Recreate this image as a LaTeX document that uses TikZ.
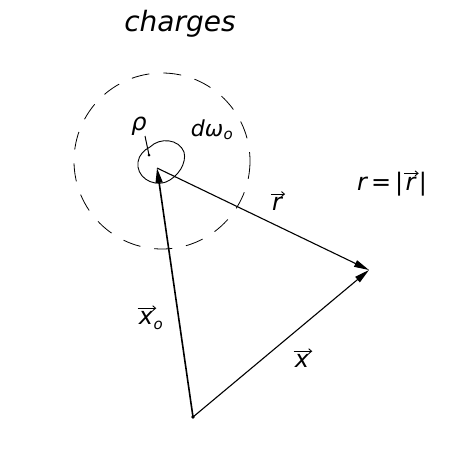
\documentclass[tikz,border=0pt]{standalone}
\usepackage{fontspec}
\setsansfont{DejaVu Sans}
\usetikzlibrary{arrows.meta}
\begin{document}
\begin{tikzpicture}[x=1pt,y=-1pt,
  vec/.style={line width=1.1pt,-{Triangle[length=15pt,width=7pt]}},
  harrow/.style={line width=0.9pt,-{Straight Barb[length=3pt,width=5pt]}},
  lbl/.style={font=\fontsize{28}{32}\selectfont\sffamily\itshape,inner sep=0pt},
  mlbl/.style={font=\fontsize{24}{28}\selectfont\sffamily\itshape,inner sep=0pt},
  sub/.style={font=\fontsize{15}{18}\selectfont\sffamily\itshape,inner sep=0pt}]
\useasboundingbox (0,0) rectangle (454,474);
\fill[white] (0,0) rectangle (454,474);
\coordinate (O) at (193,417);
\coordinate (P) at (157,168);
\coordinate (X) at (369,270);
\coordinate (C) at (162,161);
% dashed sphere
\draw[line width=0.8pt,dash pattern=on 18pt off 14pt] (C) circle (88);
% charge blob
\draw[line width=0.9pt] (150,147) .. controls (160,137) and (179,139) .. (184,152)
  .. controls (187,163) and (178,177) .. (166,182)
  .. controls (151,187) and (136,176) .. (138,162)
  .. controls (139,155) and (144,150) .. (150,147) -- cycle;
\coordinate (rhoend) at (149,155);
\fill (rhoend) circle (1.5pt);
\node[mlbl] (rho) at (139,126) {ρ};
\draw[line width=1pt] (145,136) -- (rhoend);
\node[mlbl,font=\fontsize{22}{26}\selectfont\sffamily\itshape] (dw) at (207,128) {dω};
\node[sub,anchor=base west] (dwo) at ([yshift=-3pt]dw.base east) {o};
% vectors
\draw[vec,line width=1.6pt] (O) -- (P);
\draw[vec] (P) -- (X);
\draw[vec] (O) -- (X);
\fill (O) circle (1.8pt);
% labels
\node[lbl] (charges) at (180,24) {charges};
\node[mlbl] (rl) at (277,204) {r};
\draw[harrow] ([xshift=-1pt,yshift=3pt]rl.north west) -- ([xshift=3pt,yshift=3pt]rl.north east);
\node[mlbl,anchor=base west] (rr1) at (357,190) {r\,=\,|};
\node[mlbl,anchor=base west] (rr2) at ([xshift=2pt]rr1.base east) {r};
\node[mlbl,anchor=base west] (rr3) at ([xshift=3pt]rr2.base east) {|};
\draw[harrow] ([xshift=-1pt,yshift=3pt]rr2.north west) -- ([xshift=3pt,yshift=3pt]rr2.north east);
\node[mlbl] (x0) at (146,318) {x};
\draw[harrow] ([xshift=-1pt,yshift=3pt]x0.north west) -- ([xshift=3pt,yshift=3pt]x0.north east);
\node[sub,anchor=base west] (x0o) at ([yshift=-5pt]x0.base east) {o};
\node[mlbl] (xl) at (302,361) {x};
\draw[harrow] ([xshift=-1pt,yshift=3pt]xl.north west) -- ([xshift=3pt,yshift=3pt]xl.north east);
\end{tikzpicture}
\end{document}
